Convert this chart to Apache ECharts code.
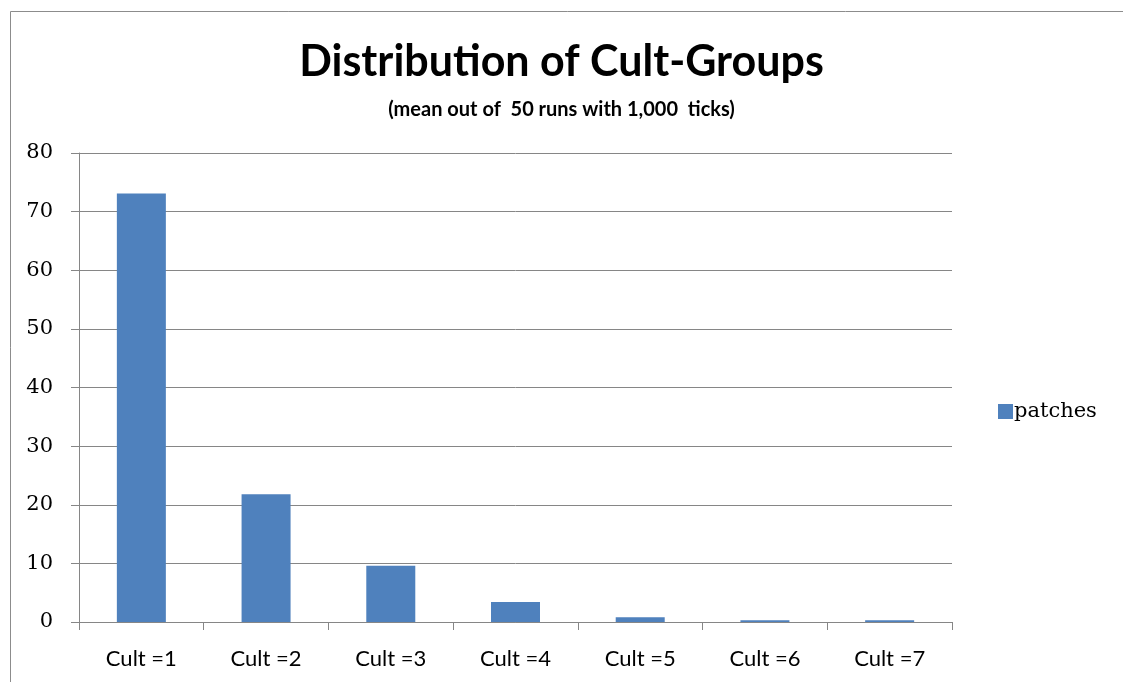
<!DOCTYPE html>
<html>
<head>
<meta charset="utf-8">
<script src="https://cdn.jsdelivr.net/npm/echarts@6/dist/echarts.min.js"></script>
<style>
  html, body { margin: 0; padding: 0; background: #ffffff; }
  #chart { width: 1123px; height: 682px; }
</style>
</head>
<body>
<div id="chart"></div>
<script>
// Mean number of patches per cult-group size
const categories = ['Cult =1', 'Cult =2', 'Cult =3', 'Cult =4', 'Cult =5', 'Cult =6', 'Cult =7'];
const patches = [73.1, 21.8, 9.6, 3.4, 0.8, 0.3, 0.3];
const seriesName = 'patches';
const titleText = 'Distribution of Cult-Groups';
const subtitleText = '(mean out of  50 runs with 1,000  ticks)';

const chart = echarts.init(document.getElementById('chart'), null, { renderer: 'canvas' });

const grey = '#868686';
const sans = 'Lato, "Open Sans", sans-serif';
const serif = '"DejaVu Serif", "Liberation Serif", serif';

chart.setOption({
  animation: false,
  backgroundColor: '#ffffff',
  graphic: [{
    type: 'rect',
    shape: { x: 10.5, y: 11.5, width: 1130, height: 700 },
    style: { fill: 'none', stroke: '#8c8c8c', lineWidth: 1 },
    silent: true
  }],
  title: [{
    text: titleText,
    left: 'center',
    top: 36,
    textStyle: { fontFamily: sans, fontWeight: 'bold', fontSize: 43, color: '#000000' }
  }, {
    text: subtitleText,
    left: 'center',
    top: 95,
    textStyle: { fontFamily: sans, fontWeight: 'bold', fontSize: 20, color: '#000000' }
  }],
  legend: {
    data: [seriesName],
    left: 993,
    top: 396,
    orient: 'vertical',
    icon: 'rect',
    itemWidth: 15,
    itemHeight: 15,
    itemGap: 6,
    textStyle: { fontFamily: serif, fontSize: 21, color: '#000000', padding: [0, 0, 0, -4] }
  },
  grid: { left: 79, right: 1123 - 952, top: 153, bottom: 682 - 622, containLabel: false },
  xAxis: {
    type: 'category',
    data: categories,
    boundaryGap: true,
    axisLine: { show: true, lineStyle: { color: grey, width: 1 } },
    axisTick: { show: true, alignWithLabel: false, length: 8, lineStyle: { color: grey } },
    axisLabel: { fontFamily: sans, fontSize: 22, color: '#000000', margin: 26 },
    splitLine: { show: false }
  },
  yAxis: {
    type: 'value',
    min: 0,
    max: 80,
    interval: 10,
    axisLine: { show: true, lineStyle: { color: grey, width: 1 } },
    axisTick: { show: true, length: 8, lineStyle: { color: grey } },
    axisLabel: { fontFamily: serif, fontSize: 21, color: '#000000', margin: 26 },
    splitLine: { show: true, lineStyle: { color: grey, width: 1 } }
  },
  series: [{
    name: seriesName,
    type: 'bar',
    data: patches,
    barWidth: 49,
    itemStyle: { color: '#4F81BD' }
  }]
});
</script>
</body>
</html>
